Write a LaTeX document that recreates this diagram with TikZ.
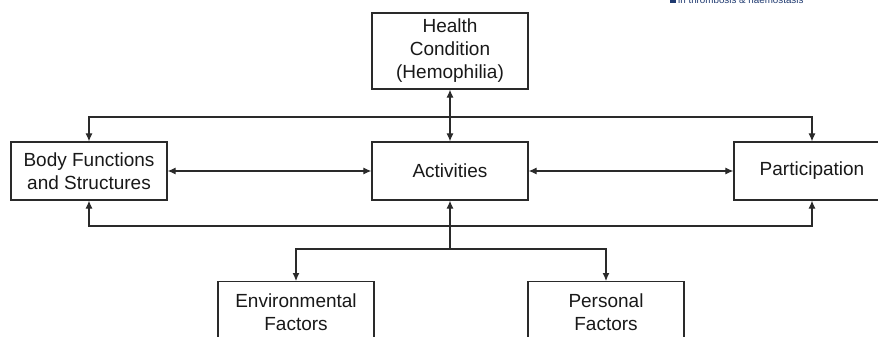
\documentclass[tikz,border=0pt]{standalone}
\usepackage{fontspec}
\setmainfont{Liberation Sans}
\usetikzlibrary{arrows.meta}
\definecolor{linegray}{HTML}{2A2A2A}
\definecolor{logoblue}{HTML}{1F3A70}
\tikzset{
  box/.style={draw=linegray, line width=1.3pt, fill=white, minimum width=156pt, align=center,
    font=\fontsize{19}{23}\selectfont, text=black!90, inner sep=0pt},
  conn/.style={draw=linegray, line width=1.1pt},
  tip/.style={-{Latex[length=8pt,width=7pt]}},
  tips/.style={{Latex[length=8pt,width=7pt]}-{Latex[length=8pt,width=7pt]}},
}
\begin{document}
\begin{tikzpicture}[x=1pt,y=-1pt]
\useasboundingbox (0,0) rectangle (878,337);
\clip (0,0) rectangle (878,337);
% logo remnant
\node[anchor=base west, inner sep=0pt, text=logoblue, font=\fontsize{9.8}{10}\selectfont] (logo) at (678,3.5) {in thrombosis \& haemostasis};
\fill[logoblue] (670,3.5) rectangle (675.5,-3);
% boxes
\node[box, minimum height=76pt] (health) at (450,51) {Health\\Condition\\(Hemophilia)};
\node[box, minimum height=58pt] (act) at (450,171) {Activities};
\node[box, minimum height=58pt] (body) at (89,171) {Body Functions\\and Structures};
\node[box, minimum height=58pt] (part) at (812,171) {Participation};
\node[box, minimum height=62pt, anchor=north] (env) at (296,281) {Environmental\\Factors};
\node[box, minimum height=62pt, anchor=north] (pers) at (606,281) {Personal\\Factors};
% bus coordinates
\coordinate (topbus) at (0,117);
\coordinate (botbus) at (0,226);
\coordinate (branch) at (450,249);
% connectors
\draw[conn, tips] (body.north) -- (body.north |- topbus) -| (part.north);
\draw[conn, tips] (body.south) -- (body.south |- botbus) -| (part.south);
\draw[conn, tips] (health.south) -- (act.north);
\draw[conn, tips] (body.east) -- (act.west);
\draw[conn, tips] (act.east) -- (part.west);
\draw[conn, tip] (branch) -- (act.south);
\draw[conn, tip] (branch) -| (env.north);
\draw[conn, tip] (branch) -| (pers.north);
\end{tikzpicture}
\end{document}
